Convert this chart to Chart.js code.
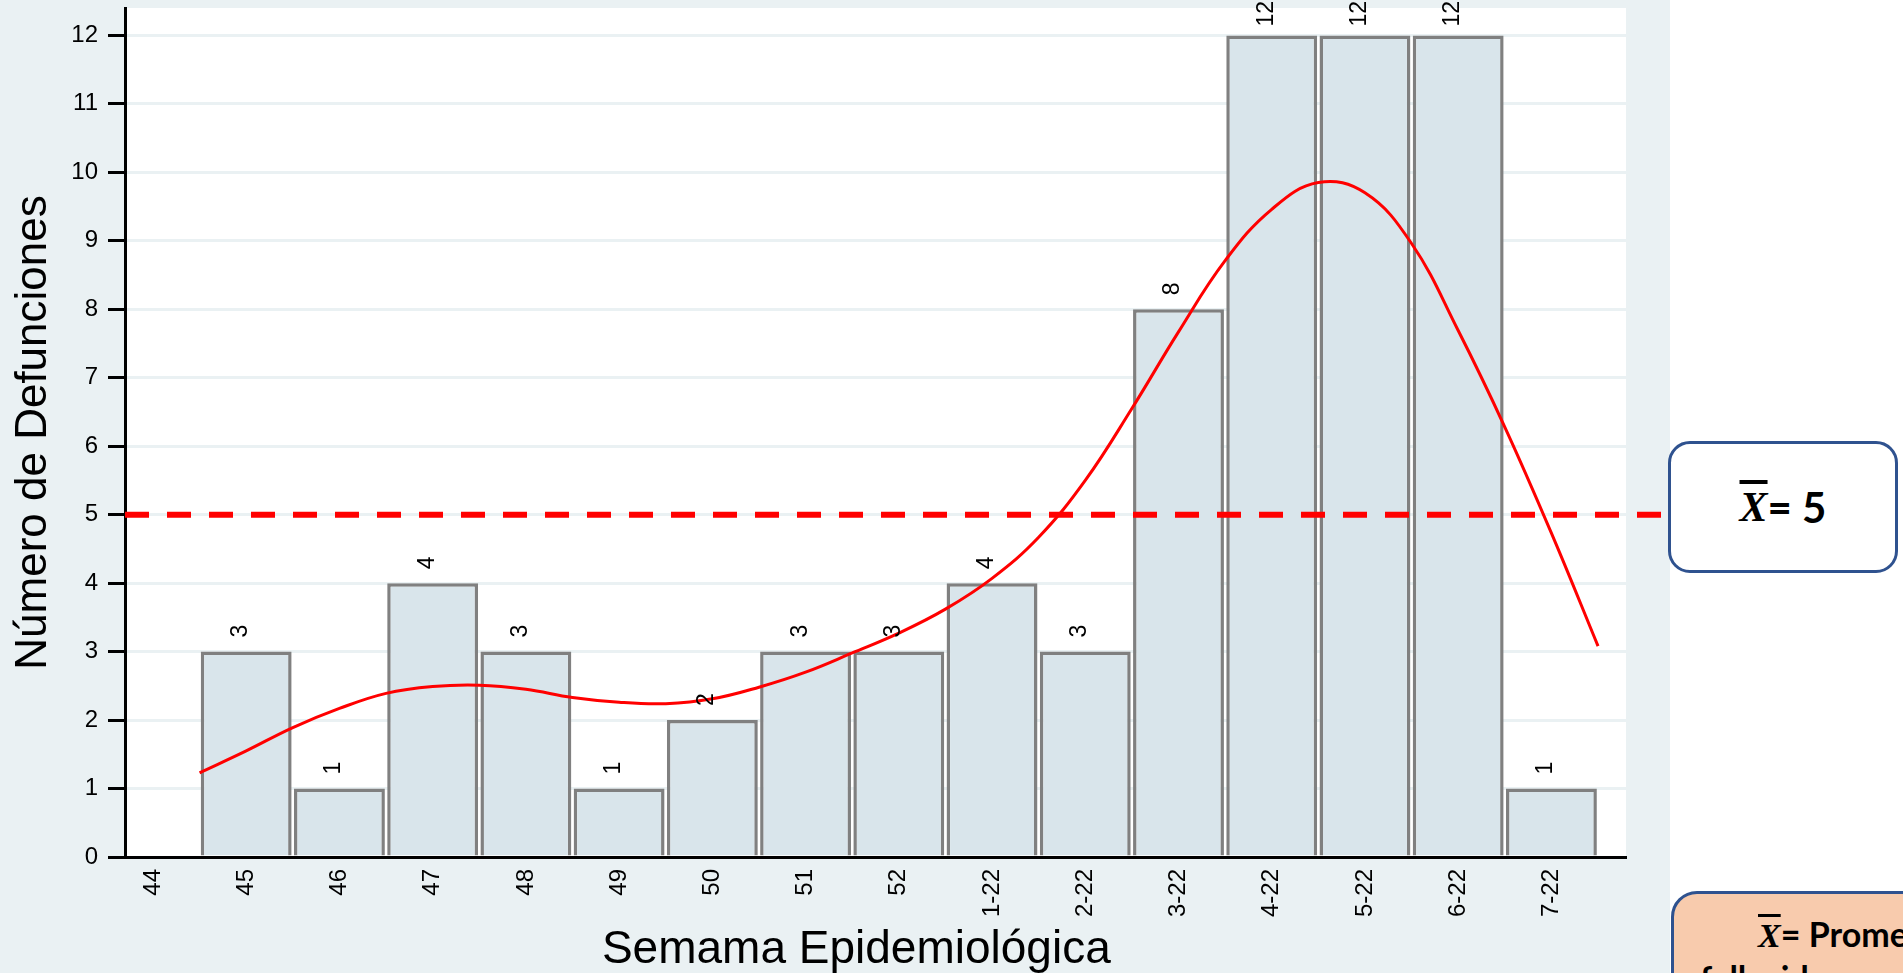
<!DOCTYPE html>
<html>
<head>
<meta charset="utf-8">
<script src="https://cdn.jsdelivr.net/npm/chart.js@4.4.1/dist/chart.umd.min.js"></script>
<style>
  html, body { margin: 0; padding: 0; width: 1903px; height: 973px; overflow: hidden; background: #fff; }
  #wrap { position: absolute; left: 0; top: 0; width: 1670px; height: 973px; }
  .box { position: absolute; box-sizing: border-box; border: 3px solid #2F528F; font-family: Lato, "Open Sans", sans-serif; font-weight: bold; color: #000; white-space: nowrap; }
  #meanBox { left: 1668px; top: 441px; width: 230px; height: 132px; border-radius: 22px; background: #fff; display: flex; align-items: center; justify-content: center; font-size: 42px; }
  #noteBox { left: 1671px; top: 891px; width: 400px; height: 200px; border-radius: 26px; background: #F8CBAD; font-size: 34px; line-height: 42px; padding: 19px 0 0 26px; text-indent: 58px; }
  .xbar { font-family: "Liberation Serif", "DejaVu Serif", serif; font-style: italic; font-weight: bold; text-decoration: overline; }
</style>
</head>
<body>
<div id="wrap"><canvas id="chart" width="1670" height="973"></canvas></div>
<div class="box" id="meanBox"><span class="xbar">X</span>=&nbsp;5</div>
<div class="box" id="noteBox"><span class="xbar">X</span>= Promedio de<br>fallecidos por semana</div>
<script>
// semana epidemiologica / defunciones
var weeks = ['44', '45', '46', '47', '48', '49', '50', '51', '52', '1-22', '2-22', '3-22', '4-22', '5-22', '6-22', '7-22'];
var deaths = [0, 3, 1, 4, 3, 1, 2, 3, 3, 4, 3, 8, 12, 12, 12, 1];
var meanDeaths = 5;
var yTicks = [0, 1, 2, 3, 4, 5, 6, 7, 8, 9, 10, 11, 12];

// red smoothed curve (x in week-index units)
var curveX = [0.5, 1, 1.5, 2, 2.5, 3, 3.5, 4, 4.5, 5, 5.5, 6, 6.5, 7, 7.5, 8, 8.5, 9, 9.5, 10, 10.5, 11, 11.5, 12, 12.5, 13, 13.5, 14, 14.5, 15, 15.5];
var curveY = [1.23, 1.55, 1.89, 2.17, 2.39, 2.49, 2.51, 2.45, 2.33, 2.26, 2.24, 2.31, 2.48, 2.70, 2.98, 3.27, 3.62, 4.07, 4.67, 5.50, 6.55, 7.67, 8.71, 9.46, 9.85, 9.70, 8.96, 7.69, 6.28, 4.73, 3.08];

Chart.defaults.font.family = '"Liberation Sans", Arial, sans-serif';
Chart.defaults.color = '#000';

var backdrop = {
  id: 'backdrop',
  beforeDraw: function(chart) {
    var ctx = chart.ctx, a = chart.chartArea;
    ctx.save();
    ctx.fillStyle = '#EAF1F3';
    ctx.fillRect(0, 0, chart.width, chart.height);
    ctx.fillStyle = '#FFFFFF';
    ctx.fillRect(a.left, a.top, a.right - a.left, a.bottom - a.top);
    ctx.restore();
  }
};

var meanLine = {
  id: 'meanLine',
  afterDatasetsDraw: function(chart) {
    var ctx = chart.ctx, a = chart.chartArea;
    var py = chart.scales.y.getPixelForValue(meanDeaths);
    ctx.save();
    ctx.strokeStyle = '#FF0000';
    ctx.lineWidth = 6;
    ctx.setLineDash([24, 18]);
    ctx.beginPath();
    ctx.moveTo(a.left, py);
    ctx.lineTo(chart.width - 6, py);
    ctx.stroke();
    ctx.restore();
  }
};

var barLabels = {
  id: 'barLabels',
  afterDatasetsDraw: function(chart) {
    var ctx = chart.ctx;
    var meta = chart.getDatasetMeta(1);
    ctx.save();
    ctx.font = '23px "Liberation Sans", Arial, sans-serif';
    ctx.fillStyle = '#000';
    ctx.textAlign = 'left';
    ctx.textBaseline = 'alphabetic';
    meta.data.forEach(function(bar, i) {
      if (!deaths[i]) return;
      var txt = String(deaths[i]);
      var w = ctx.measureText(txt).width;
      var start = Math.max(bar.y - 14, w + 1);
      ctx.save();
      ctx.translate(bar.x + 1, start);
      ctx.rotate(-Math.PI / 2);
      ctx.fillText(txt, 0, 0);
      ctx.restore();
    });
    ctx.restore();
  }
};

new Chart(document.getElementById('chart'), {
  type: 'bar',
  data: {
    datasets: [
      {
        type: 'line',
        data: curveX.map(function(x, i) { return {x: x, y: curveY[i]}; }),
        borderColor: '#FF0000',
        borderWidth: 3,
        pointRadius: 0,
        tension: 0.4,
        fill: false,
        order: 0
      },
      {
        type: 'bar',
        data: deaths.map(function(v, i) { return {x: i, y: v}; }),
        backgroundColor: '#D9E5EB',
        borderColor: '#808080',
        borderWidth: 3.5,
        categoryPercentage: 1,
        barPercentage: 0.975,
        order: 1
      }
    ]
  },
  options: {
    responsive: false,
    animation: false,
    devicePixelRatio: 1,
    layout: { padding: { top: 8, right: 44, left: 0, bottom: 0 } },
    plugins: { legend: { display: false }, tooltip: { enabled: false } },
    scales: {
      x: {
        type: 'linear',
        offset: false,
        min: -0.3,
        max: 15.8,
        afterFit: function(s) { s.height = 116; s.paddingLeft = 0; s.paddingRight = 0; },
        afterBuildTicks: function(s) { s.ticks = weeks.map(function(w, i) { return {value: i}; }); },
        grid: { display: false, drawTicks: false },
        border: { display: true, color: '#000', width: 3, z: 1 },
        ticks: {
          autoSkip: false, minRotation: 90, maxRotation: 90, padding: 12,
          color: '#000', font: { size: 24 },
          callback: function(v) { return weeks[v]; }
        },
        title: { display: true, text: 'Semama Epidemiológica   ', color: '#000', font: { size: 46, lineHeight: 1 }, padding: { top: 0, bottom: 0 } }
      },
      y: {
        min: 0,
        max: 12.4,
        afterFit: function(s) { s.width = 125; s.paddingTop = 0; s.paddingBottom = 0; },
        afterBuildTicks: function(s) { s.ticks = yTicks.map(function(v) { return {value: v}; }); },
        grid: { color: '#EAF1F3', lineWidth: 3, tickColor: '#000', tickLength: 17, tickWidth: 3 },
        border: { display: true, color: '#000', width: 3 },
        ticks: { padding: 10, color: '#000', font: { size: 24 } },
        title: { display: true, text: 'Número de Defunciones', color: '#000', font: { size: 44, lineHeight: 1 }, padding: { top: 12, bottom: 0 } }
      }
    }
  },
  plugins: [backdrop, meanLine, barLabels]
});
</script>
</body>
</html>
